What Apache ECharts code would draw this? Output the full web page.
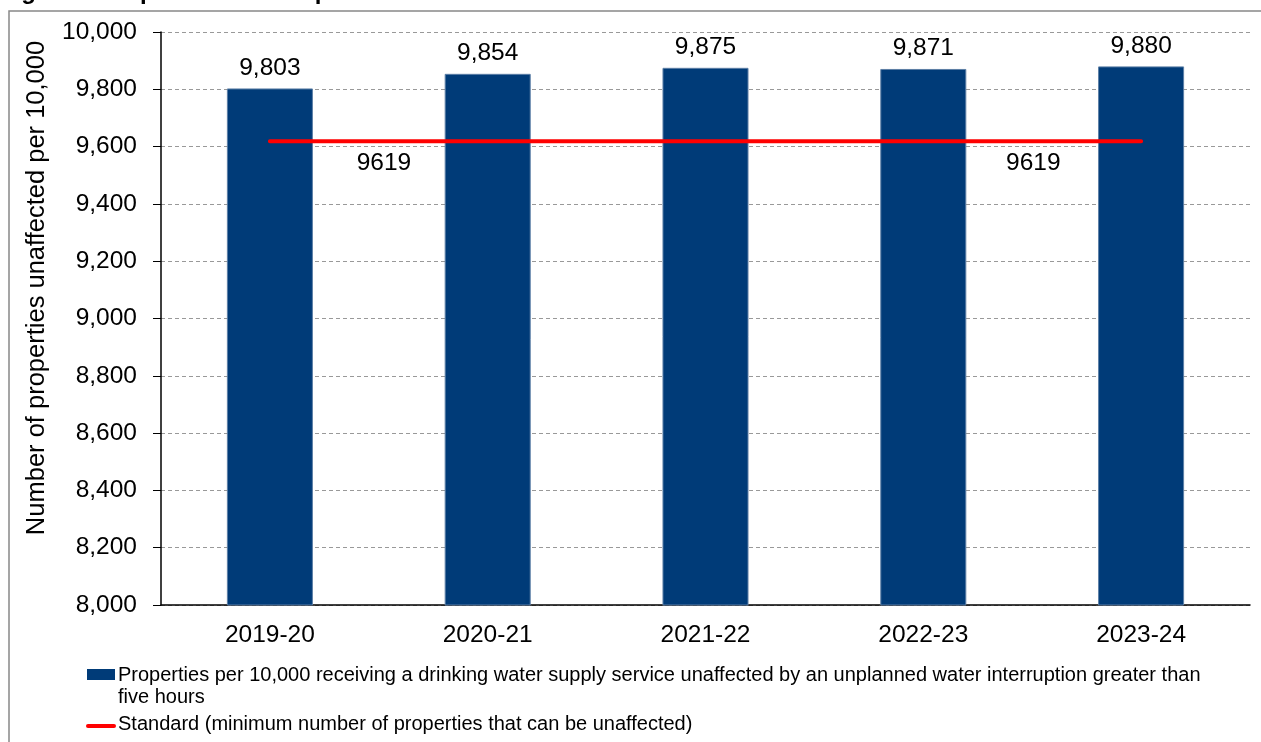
<!DOCTYPE html>
<html>
<head>
<meta charset="utf-8">
<script src="https://cdn.jsdelivr.net/npm/echarts@6/dist/echarts.min.js"></script>
<style>
  html, body { margin: 0; padding: 0; background: #fff; }
  #chart { width: 1261px; height: 742px; }
</style>
</head>
<body>
<div id="chart"></div>
<script>
// data
const years = ["2019-20", "2020-21", "2021-22", "2022-23", "2023-24"];
const unaffected = [9803, 9854, 9875, 9871, 9880];
const standard = [9619, 9619, 9619, 9619, 9619];
const yTicks = { min: 8000, max: 10000, step: 200 };

const titleText = "Figure 9: Unplanned interruptions over five hours";
const yName = "Number of properties unaffected per 10,000";
const barName = "Properties per 10,000 receiving a drinking water supply service unaffected by an unplanned water interruption greater than\nfive hours";
const lineName = "Standard (minimum number of properties that can be unaffected)";

const font = "Liberation Sans, Arial, sans-serif";
const fs = 24.5;
const fmt = v => Number(v).toLocaleString("en-US");

// only label the standard line twice, like the source
const stdData = standard.map((v, i) => {
  if (i === 0) return { value: v, label: { show: true, offset: [114, 0] } };
  if (i === 3) return { value: v, label: { show: true, offset: [110, 0] } };
  return v;
});

const chart = echarts.init(document.getElementById("chart"));
chart.setOption({
  animation: false,
  textStyle: { fontFamily: font },
  grid: { left: 161, right: 11, top: 32, bottom: 137 },
  xAxis: {
    type: "category",
    data: years,
    axisLine: { lineStyle: { color: "#000", width: 1.5 } },
    axisTick: { show: false },
    axisLabel: { color: "#000", fontSize: fs, margin: 18, fontFamily: font }
  },
  yAxis: {
    type: "value",
    min: yTicks.min,
    max: yTicks.max,
    interval: yTicks.step,
    axisLine: { show: true, lineStyle: { color: "#000", width: 1.5 } },
    axisTick: { show: true, length: 8, lineStyle: { color: "#000" } },
    axisLabel: { color: "#000", fontSize: fs, margin: 24, fontFamily: font, formatter: fmt },
    splitLine: { lineStyle: { color: "#999", type: [4, 3] } }
  },
  series: [
    {
      name: barName,
      type: "bar",
      data: unaffected,
      barWidth: "39.5%",
      itemStyle: { color: "#003b78", borderColor: "#5c7fa6", borderWidth: 1 },
      label: {
        show: true, position: "top", distance: 8,
        color: "#000", fontSize: fs, fontFamily: font,
        formatter: p => fmt(p.value)
      },
      z: 2
    },
    {
      name: lineName,
      type: "line",
      data: stdData,
      symbol: "circle",
      symbolSize: 1,
      itemStyle: { color: "#ff0000" },
      lineStyle: { color: "#ff0000", width: 4, cap: "round" },
      label: {
        show: false, position: "bottom", distance: 9,
        color: "#000", fontSize: fs, fontFamily: font
      },
      z: 3
    }
  ],
  graphic: [
    // outer frame of the figure, cut by the page edge
    { type: "rect", shape: { x: 9, y: 11, width: 1300, height: 800 },
      style: { fill: null, stroke: "#888", lineWidth: 1.5 }, silent: true },
    // title, mostly cropped off the top
    { type: "text", left: 0, top: -20,
      style: { text: titleText, font: "bold 24px " + font, fill: "#000" } },
    // y axis title
    { type: "text", x: 37, y: 288, rotation: Math.PI / 2,
      style: { text: yName, font: "25.5px " + font, fill: "#000",
               textAlign: "center", textVerticalAlign: "middle" } },
    // legend
    { type: "rect", shape: { x: 87, y: 669, width: 28, height: 11 }, style: { fill: "#003b78" } },
    { type: "text", left: 118, top: 664,
      style: { text: barName, font: "20px " + font, fill: "#000", lineHeight: 22 } },
    { type: "line", shape: { x1: 88, y1: 726, x2: 114, y2: 726 },
      style: { stroke: "#ff0000", lineWidth: 4, lineCap: "round" } },
    { type: "text", left: 118, top: 714,
      style: { text: lineName, font: "20px " + font, fill: "#000" } }
  ]
});
</script>
</body>
</html>
